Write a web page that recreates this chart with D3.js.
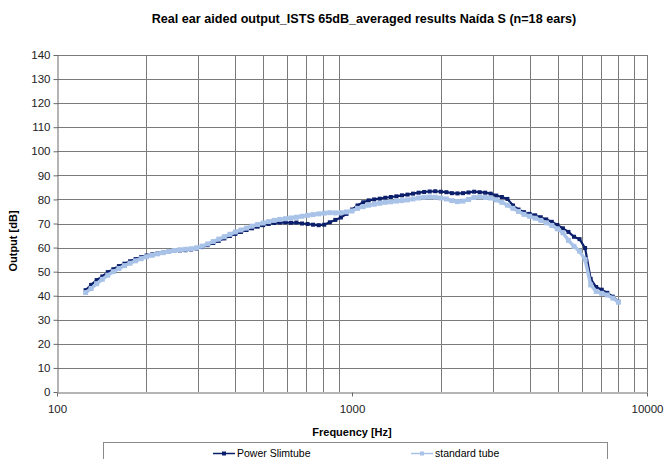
<!DOCTYPE html>
<html>
<head>
<meta charset="utf-8">
<script src="https://cdn.jsdelivr.net/npm/d3@7"></script>
<style>
  body { margin: 0; background: #fff; }
  svg { display: block; font-family: "Liberation Sans", Arial, sans-serif; }
</style>
</head>
<body>
<div id="chart"></div>
<script>
// frequencies (Hz), 1/16 octave steps
var freqs = [125, 130.5, 136.3, 142.4, 148.6, 155.2, 162.1, 169.3, 176.8, 184.6, 192.8, 201.3,
  210.2, 219.5, 229.3, 239.4, 250, 261.1, 272.6, 284.7, 297.3, 310.5, 324.2, 338.6,
  353.6, 369.2, 385.6, 402.6, 420.4, 439.1, 458.5, 478.8, 500, 522, 545, 569, 595, 621,
  648, 677, 707, 738, 771, 805, 841, 878, 917, 958, 1000, 1044, 1091, 1139, 1189, 1242,
  1297, 1354, 1414, 1477, 1542, 1610, 1682, 1756, 1834, 1915, 2000, 2089, 2181, 2278,
  2378, 2484, 2594, 2709, 2828, 2953, 3084, 3221, 3364, 3513, 3668, 3830, 4000, 4177,
  4362, 4555, 4757, 4967, 5187, 5417, 5657, 5907, 6169, 6442, 6727, 7025, 7336, 7661, 8000];

var powerSlimtube = [42.3, 44.5, 46.5, 48, 49.8, 51, 52.3, 53.3, 54.3, 55.2, 56, 56.7,
  57.2, 57.6, 58, 58.3, 58.6, 58.8, 58.9, 59.2, 59.6, 60.2, 61, 61.9,
  62.8, 63.8, 64.8, 65.7, 66.5, 67.3, 68, 68.7, 69.3, 69.8, 70.2, 70.4, 70.5, 70.3,
  70.4, 70, 69.8, 69.5, 69.3, 69.5, 70.5, 71.5, 72.5, 74, 75.8, 77.5, 78.8, 79.6, 80, 80.3,
  80.7, 81, 81.3, 81.7, 82, 82.4, 82.8, 83.1, 83.3, 83.4, 83.2, 83, 82.6, 82.5,
  82.6, 82.9, 83.2, 83, 82.8, 82.4, 81.6, 81, 80.2, 77.5, 75.8, 74.7, 74, 73.4,
  72.6, 71.7, 70.7, 69.4, 68, 66.5, 64.5, 63.5, 59.8, 47, 43.6, 42.5, 41.2, 39.6, 37.5];

var standardTube = [41.3, 43, 45, 46.8, 48.5, 50, 51.3, 52.5, 53.5, 54.5, 55.4, 56.2,
  56.8, 57.4, 57.9, 58.4, 58.8, 59.1, 59.3, 59.5, 59.9, 60.6, 61.5, 62.5,
  63.5, 64.5, 65.5, 66.5, 67.3, 68.1, 68.9, 69.6, 70.2, 70.8, 71.3, 71.7, 72, 72.3,
  72.6, 73, 73.4, 73.7, 74, 74.3, 74.5, 74.4, 74.5, 74.8, 75.2, 76.3, 77, 77.6, 78, 78.4,
  78.8, 79, 79.3, 79.5, 79.8, 80.2, 80.6, 80.9, 81, 80.9, 80.6, 80.2, 79.5, 79.1,
  79.3, 80, 80.8, 81, 80.8, 80.6, 79.8, 78.8, 77.6, 76.3, 75, 73.8, 73, 72.2,
  71.3, 70.3, 69.2, 67.8, 66.2, 63, 60.5, 58.5, 55, 44.5, 41.8, 41, 40.3, 39, 37.3];

var yTicks = d3.range(0, 141, 10);
var xLabels = [100, 1000, 10000];
var xGrid = [200, 300, 400, 500, 600, 700, 800, 900, 2000, 3000, 4000, 5000, 6000, 7000, 8000, 9000, 10000];

var width = 664, height = 459;
var plotLeft = 57, plotRight = 647, plotTop = 55, plotBottom = 392;

var svg = d3.select('#chart')
  .append('svg')
    .attr('width', width)
    .attr('height', height);

var x = d3.scaleLog().domain([100, 10000]).range([plotLeft, plotRight]);
var y = d3.scaleLinear().domain([0, 140]).range([plotBottom, plotTop]);

// grid
svg.append('g')
  .selectAll('line')
  .data(yTicks.slice(1))
  .enter().append('line')
    .attr('x1', plotLeft).attr('x2', plotRight)
    .attr('y1', d => Math.round(y(d)) + 0.5).attr('y2', d => Math.round(y(d)) + 0.5)
    .attr('stroke', '#7a7a7a');

svg.append('g')
  .selectAll('line')
  .data(xGrid)
  .enter().append('line')
    .attr('x1', d => Math.round(x(d)) + 0.5).attr('x2', d => Math.round(x(d)) + 0.5)
    .attr('y1', plotTop).attr('y2', plotBottom)
    .attr('stroke', '#7a7a7a');

// axes
var yAxis = svg.append('g')
  .attr('transform', 'translate(' + (plotLeft + 0.5) + ',0)')
  .call(d3.axisLeft(y).tickValues(yTicks).tickSize(4).tickPadding(3).tickSizeOuter(0));

var xAxis = svg.append('g')
  .attr('transform', 'translate(0,' + (plotBottom + 0.5) + ')')
  .call(d3.axisBottom(x).tickValues(xLabels).tickFormat(d3.format('d')).tickSize(4).tickPadding(8).tickSizeOuter(0));

svg.selectAll('.domain').attr('stroke', '#6a6a6a');
svg.selectAll('.tick line').attr('stroke', '#6a6a6a');
svg.selectAll('.tick text')
  .style('font-size', '11.5px')
  .style('font-family', '"Liberation Sans", Arial, sans-serif')
  .attr('fill', '#222');

// series
var series = [
  { name: 'Power Slimtube', values: powerSlimtube, color: '#0c1f6b', width: 2.2, size: 4 },
  { name: 'standard tube', values: standardTube, color: '#a9c3e8', width: 3.4, size: 5 }
];

var line = d3.line()
  .x((d, i) => x(freqs[i]))
  .y(d => y(d));

series.forEach(function(s) {
  svg.append('path')
    .datum(s.values)
    .attr('d', line)
    .attr('fill', 'none')
    .attr('stroke', s.color)
    .attr('stroke-width', s.width);

  svg.append('g')
    .selectAll('rect')
    .data(s.values)
    .enter().append('rect')
      .attr('x', (d, i) => x(freqs[i]) - s.size / 2)
      .attr('y', d => y(d) - s.size / 2)
      .attr('width', s.size)
      .attr('height', s.size)
      .attr('fill', s.color);
});

// titles
svg.append('text')
  .attr('x', 364)
  .attr('y', 23)
  .attr('text-anchor', 'middle')
  .style('font-size', '12.6px')
  .style('font-weight', 'bold')
  .text('Real ear aided output_ISTS  65dB_averaged results Naída S (n=18 ears)');

svg.append('text')
  .attr('transform', 'translate(17,241) rotate(-90)')
  .attr('text-anchor', 'middle')
  .style('font-size', '11px')
  .style('font-weight', 'bold')
  .text('Output [dB]');

svg.append('text')
  .attr('x', 352)
  .attr('y', 436)
  .attr('text-anchor', 'middle')
  .style('font-size', '11px')
  .style('font-weight', 'bold')
  .text('Frequency [Hz]');

// legend
var legend = svg.append('g');
legend.append('rect')
  .attr('x', 103.5).attr('y', 442.5)
  .attr('width', 504).attr('height', 30)
  .attr('fill', '#fff')
  .attr('stroke', '#8a8a8a');

var legendX = [213, 411];
series.forEach(function(s, i) {
  var lx = legendX[i];
  legend.append('line')
    .attr('x1', lx).attr('x2', lx + 22)
    .attr('y1', 453.5).attr('y2', 453.5)
    .attr('stroke', s.color)
    .attr('stroke-width', 1.5);
  legend.append('rect')
    .attr('x', lx + 11 - 2).attr('y', 453.5 - 2)
    .attr('width', 4).attr('height', 4)
    .attr('fill', s.color);
  legend.append('text')
    .attr('x', lx + 24)
    .attr('y', 457)
    .style('font-size', '10.5px')
    .text(s.name);
});
</script>
</body>
</html>
